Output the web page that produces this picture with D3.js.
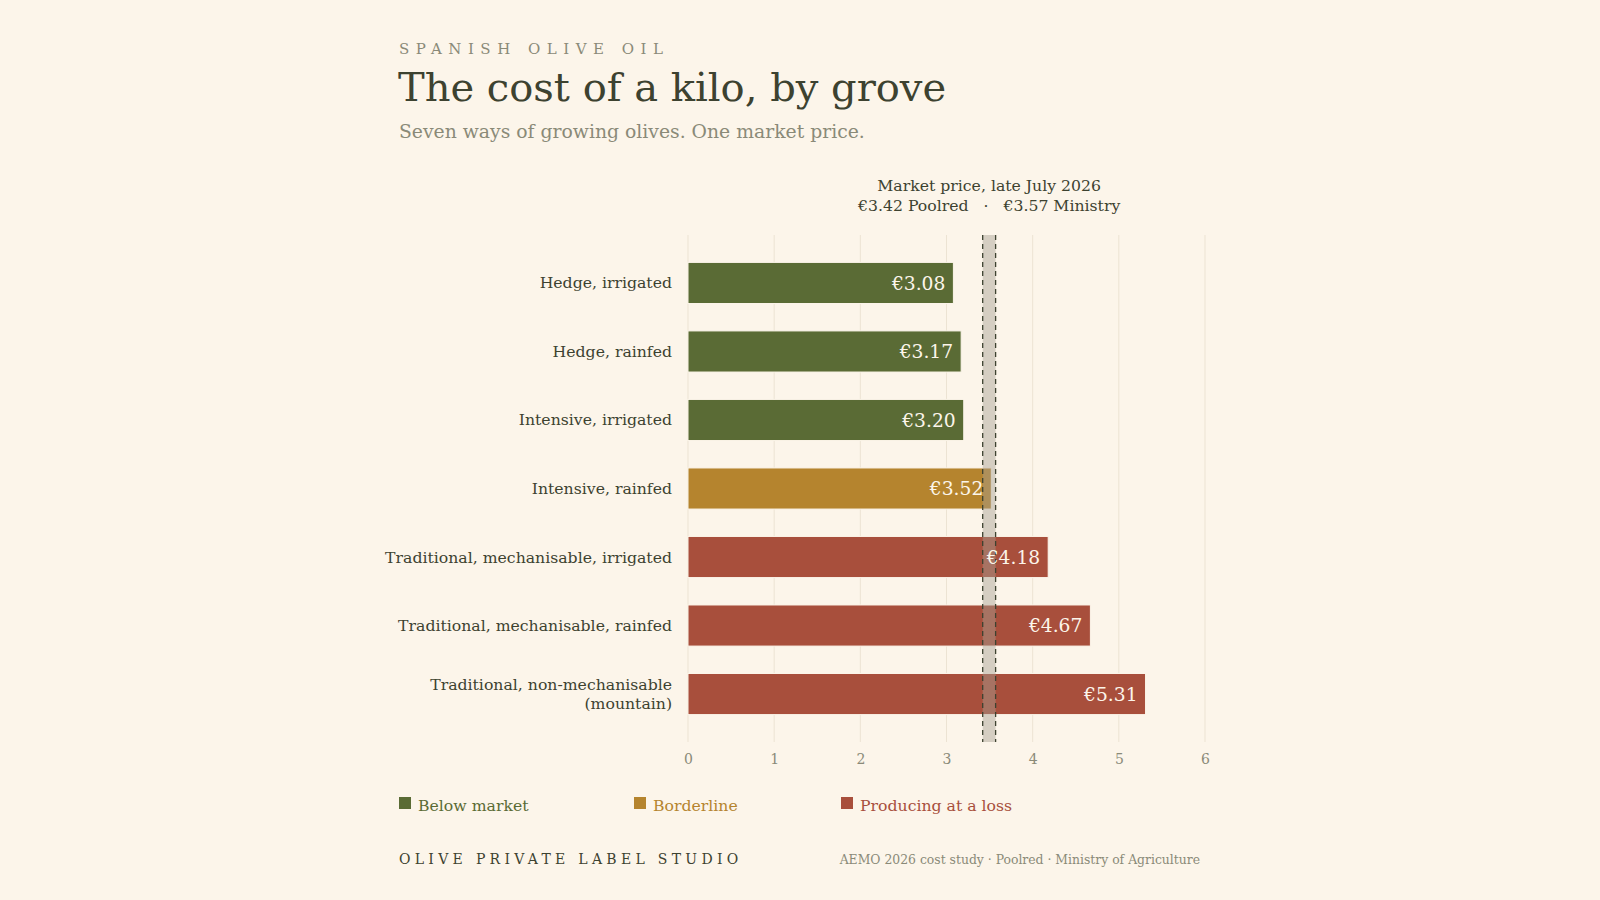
<!DOCTYPE html>
<html>
<head>
<meta charset="utf-8">
<script src="https://cdn.jsdelivr.net/npm/d3@7"></script>
<style>
  html, body { margin: 0; padding: 0; background: #fcf5ea; }
  svg { display: block; font-family: "DejaVu Serif", serif; }
</style>
</head>
<body>
<div id="chart"></div>
<script>
// data
var groves = ["Hedge, irrigated", "Hedge, rainfed", "Intensive, irrigated", "Intensive, rainfed",
  "Traditional, mechanisable, irrigated", "Traditional, mechanisable, rainfed",
  "Traditional, non-mechanisable (mountain)"];
var costs = [3.08, 3.17, 3.20, 3.52, 4.18, 4.67, 5.31];
var tiers = ["below", "below", "below", "border", "loss", "loss", "loss"];
var marketPrices = [3.42, 3.57];
var xTicks = [0, 1, 2, 3, 4, 5, 6];
var legendLabels = ["Below market", "Borderline", "Producing at a loss"];

var colors = { below: "#5a6b35", border: "#b5842e", loss: "#a84f3c" };
var ink = "#3d4230", muted = "#8a8a78";

var W = 1600, H = 900;
var margin = { top: 235, right: 395, bottom: 158, left: 688 };

var svg = d3.select("#chart").append("svg")
  .attr("width", W).attr("height", H);

svg.append("rect").attr("width", W).attr("height", H).attr("fill", "#fcf5ea");

// header
svg.append("text").attr("x", 399).attr("y", 54)
  .attr("font-size", 15).attr("letter-spacing", "6.5px").attr("fill", muted)
  .text("SPANISH OLIVE OIL");
svg.append("text").attr("x", 398).attr("y", 101)
  .attr("font-size", 40).attr("fill", ink)
  .text("The cost of a kilo, by grove");
svg.append("text").attr("x", 399).attr("y", 138)
  .attr("font-size", 18.8).attr("fill", muted)
  .text("Seven ways of growing olives. One market price.");

var x = d3.scaleLinear().domain([0, 6]).range([margin.left, W - margin.right]);
var y = d3.scaleBand().domain(groves).range([margin.top, H - margin.bottom])
  .paddingInner(0.4).paddingOuter(0.4);

// grid
svg.append("g").selectAll("line").data(xTicks).join("line")
  .attr("x1", d => x(d)).attr("x2", d => x(d))
  .attr("y1", margin.top).attr("y2", H - margin.bottom)
  .attr("stroke", "#ece3d3").attr("stroke-width", 1);

// x axis
var xAxis = svg.append("g")
  .attr("transform", "translate(0," + (H - margin.bottom + 9) + ")")
  .call(d3.axisBottom(x).tickValues(xTicks).tickSize(0).tickPadding(0).tickFormat(d3.format("d")));
xAxis.select(".domain").remove();
xAxis.selectAll("text").attr("font-family", "DejaVu Serif").attr("font-size", 14)
  .attr("fill", muted).attr("dy", "0.9em");

// bars
svg.append("g").selectAll("rect").data(groves).join("rect")
  .attr("x", x(0)).attr("y", d => y(d))
  .attr("width", (d, i) => x(costs[i]) - x(0)).attr("height", y.bandwidth())
  .attr("fill", (d, i) => colors[tiers[i]])
  .attr("stroke", "#fcf5ea").attr("stroke-width", 1);

// market band
var band = svg.append("g");
band.append("rect")
  .attr("x", x(marketPrices[0])).attr("width", x(marketPrices[1]) - x(marketPrices[0]))
  .attr("y", margin.top).attr("height", H - margin.bottom - margin.top)
  .attr("fill", "#a7a093").attr("opacity", 0.45);
band.selectAll("line").data(marketPrices).join("line")
  .attr("x1", d => x(d)).attr("x2", d => x(d))
  .attr("y1", margin.top).attr("y2", H - margin.bottom)
  .attr("stroke", ink).attr("stroke-width", 1.3).attr("stroke-dasharray", "5,4");

// value labels
svg.append("g").selectAll("text").data(groves).join("text")
  .attr("x", (d, i) => x(costs[i]) - 8)
  .attr("y", d => y(d) + y.bandwidth() / 2)
  .attr("dy", "0.35em").attr("text-anchor", "end")
  .attr("font-size", 18.7).attr("fill", "#fcf5ea")
  .text((d, i) => "€" + costs[i].toFixed(2));

// category labels
var cat = svg.append("g").selectAll("text").data(groves).join("text")
  .attr("x", x(0) - 16).attr("text-anchor", "end")
  .attr("font-size", 15.7).attr("fill", ink);
cat.each(function(d) {
  var t = d3.select(this);
  var yc = y(d) + y.bandwidth() / 2;
  var parts = d.indexOf("(") > 0 ? [d.slice(0, d.indexOf(" (")), d.slice(d.indexOf("(") )] : [d];
  parts.forEach(function(p, j) {
    t.append("tspan").attr("x", x(0) - 16)
      .attr("y", yc + (j - (parts.length - 1) / 2) * 18.5)
      .attr("dy", "0.35em").text(p);
  });
});

// market annotation
var mid = x((marketPrices[0] + marketPrices[1]) / 2);
svg.append("text").attr("x", mid).attr("y", 191).attr("text-anchor", "middle")
  .attr("font-size", 15.7).attr("fill", ink).text("Market price, late July 2026");
svg.append("text").attr("x", mid).attr("y", 211).attr("text-anchor", "middle")
  .attr("font-size", 15.7).attr("fill", ink)
  .attr("xml:space", "preserve")
  .text("€" + marketPrices[0].toFixed(2) + " Poolred   ·   €" + marketPrices[1].toFixed(2) + " Ministry");

// legend
var legendX = [399, 634, 841];
var legendKeys = ["below", "border", "loss"];
var lg = svg.append("g").selectAll("g").data(legendLabels).join("g")
  .attr("transform", (d, i) => "translate(" + legendX[i] + ",797)");
lg.append("rect").attr("width", 12).attr("height", 12)
  .attr("fill", (d, i) => colors[legendKeys[i]]);
lg.append("text").attr("x", 19).attr("y", 13.5).attr("font-size", 15.7)
  .attr("fill", (d, i) => colors[legendKeys[i]]).text(d => d);

// footer
svg.append("text").attr("x", 399).attr("y", 864)
  .attr("font-size", 14).attr("letter-spacing", "4.3px").attr("fill", ink)
  .text("OLIVE PRIVATE LABEL STUDIO");
svg.append("text").attr("x", 1200).attr("y", 864).attr("text-anchor", "end")
  .attr("font-size", 12.4).attr("fill", muted)
  .text("AEMO 2026 cost study · Poolred · Ministry of Agriculture");
</script>
</body>
</html>
